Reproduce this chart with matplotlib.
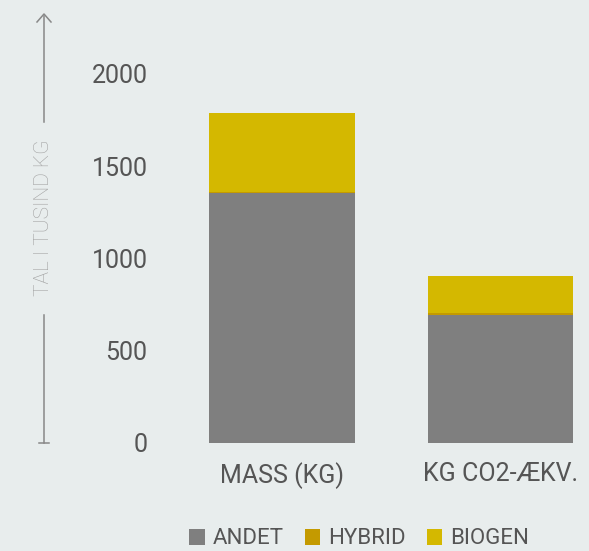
import matplotlib
matplotlib.use("Agg")
import matplotlib.pyplot as plt
from matplotlib.lines import Line2D
from matplotlib.patches import Patch

categories = ["MASS (KG)", "KG CO2-ÆKV."]
andet = [1355, 694]
hybrid = [5, 9]
biogen = [429, 202]
series_names = ["ANDET", "HYBRID", "BIOGEN"]
yticks = [0, 500, 1000, 1500, 2000]
ylabel = "TAL I TUSIND KG"

colors = ["#7f7f7f", "#c49a00", "#d4b800"]
bg = "#e8eded"
W, H = 589, 551

plt.rcParams['font.family'] = ['Roboto', 'DejaVu Sans']
fig = plt.figure(figsize=(W / 100, H / 100), dpi=100, facecolor=bg)

# axes: y=0 at px 443, y=2000 at px 74
ax_left_px, ax_right_px = 160, 589
ax = fig.add_axes([ax_left_px / W, 1 - 443 / H, (ax_right_px - ax_left_px) / W, (443 - 74) / H])
ax.set_facecolor(bg)
ax.patch.set_alpha(0)

x = list(range(len(categories)))
bw = 0.668
ax.bar(x, andet, width=bw, color=colors[0], label=series_names[0])
ax.bar(x, hybrid, width=bw, bottom=andet, color=colors[1], label=series_names[1])
bott = [a + h for a, h in zip(andet, hybrid)]
ax.bar(x, biogen, width=bw, bottom=bott, color=colors[2], label=series_names[2])

unit = 218.5
ax.set_xlim(-(282 - ax_left_px) / unit, (ax_right_px - 282) / unit)
ax.set_ylim(0, 2000)
ax.set_yticks(yticks)
ax.set_yticklabels([str(v) for v in yticks], fontsize=18, color="#555555")
ax.set_xticks(x)
ax.set_xticklabels(categories, fontsize=18, color="#555555")
ax.tick_params(axis='y', length=0, pad=9)
ax.tick_params(axis='x', length=0, pad=14)
for s in ax.spines.values():
    s.set_visible(False)

# axis label with arrow line
ax_x = 44 / W
fig.add_artist(Line2D([ax_x, ax_x], [1 - 443 / H, 1 - 315 / H], color="#888888", lw=1.1))
fig.add_artist(Line2D([39 / W, 49 / W], [1 - 443 / H, 1 - 443 / H], color="#888888", lw=1.1))
fig.add_artist(Line2D([ax_x, ax_x], [1 - 122 / H, 1 - 16 / H], color="#888888", lw=1.1))
fig.add_artist(Line2D([ax_x - 7 / W, ax_x, ax_x + 7 / W], [1 - 22 / H, 1 - 14 / H, 1 - 22 / H],
                      color="#888888", lw=1.1))
fig.text(ax_x, 1 - 218 / H, ylabel, rotation=90, ha='center', va='center',
         fontsize=15, color="#a0a0a0", fontweight='light')

handles = [Patch(facecolor=c) for c in colors]
fig.legend(handles, series_names, loc='center', bbox_to_anchor=(359 / W, 1 - 539 / H),
           ncol=3, frameon=False, fontsize=16, handlelength=0.7, handleheight=0.7,
           handletextpad=0.35, columnspacing=0.95, labelcolor="#555555")

fig.savefig("out.png", dpi=100, facecolor=bg)
